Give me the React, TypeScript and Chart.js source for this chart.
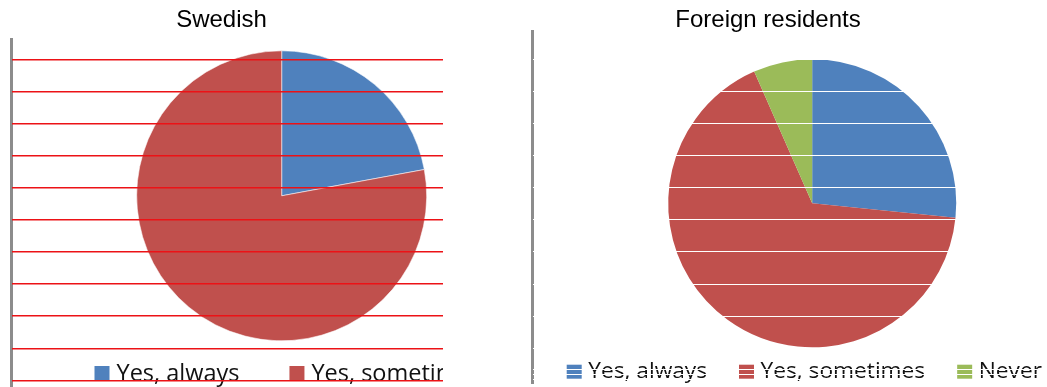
import { useEffect, useRef } from "react";
import { Chart, registerables } from "chart.js";

Chart.register(...registerables);

// ---- data ----
const swedishLabels = ["Yes, always", "Yes, sometimes"];
const swedishShares = [22.1, 77.9];

const foreignLabels = ["Yes, always", "Yes, sometimes", "Never"];
const foreignShares = [26.6, 66.8, 6.6];

const sliceColors = ["#4F81BD", "#C0504D", "#9BBB59"];

// horizontal rule rows (one unit per rule step, counted from the lowest rule)
const swedishRuleRows = [0, 1, 2, 3, 4, 5, 6, 7, 8, 9, 10];
const foreignRuleRows = [0.04, 0.19, 0.34, 1, 2, 3, 4, 5, 6, 7, 8, 9, 10];

// ---- layout ----
const HEIGHT = 387;
const TITLE_SIZE = 24;
const TITLE_BASELINE = 26.5;

type LegendLayout = {
  x: number;
  boxTop: number;
  boxW: number;
  boxH: number;
  baseline: number;
  size: number;
  textGap: number;
  itemGap: number;
};

type RuleLayout = {
  rows: number[];
  min: number;
  max: number;
  top: number;
  bottom: number;
  axisX: number;
  color: string;
  width: number;
};

type PanelSpec = {
  title: string;
  labels: string[];
  values: number[];
  left: number;
  width: number;
  cx: number;
  cy: number;
  radius: number;
  sliceBorder: number;
  sliceBorderColor: string;
  legend: LegendLayout;
  rules: RuleLayout;
};

const panels: PanelSpec[] = [
  {
    title: "Swedish",
    labels: swedishLabels,
    values: swedishShares,
    left: 0,
    width: 443,
    cx: 281.7,
    cy: 195.8,
    radius: 145,
    sliceBorder: 1,
    sliceBorderColor: "rgba(255,255,255,0.55)",
    legend: { x: 94.5, boxTop: 366, boxW: 15, boxH: 15, baseline: 380.7, size: 23.5, textGap: 7, itemGap: 50 },
    rules: { rows: swedishRuleRows, min: -0.206, max: 10.636, top: 39, bottom: 387, axisX: 11.5, color: "rgb(236,18,22)", width: 1.5 },
  },
  {
    title: "Foreign residents",
    labels: foreignLabels,
    values: foreignShares,
    left: 489,
    width: 558,
    cx: 323.2,
    cy: 203.3,
    radius: 144,
    sliceBorder: 0,
    sliceBorderColor: "rgba(255,255,255,0)",
    legend: { x: 77.7, boxTop: 364.7, boxW: 15, boxH: 14, baseline: 378.3, size: 22.7, textGap: 6.6, itemGap: 32 },
    rules: { rows: foreignRuleRows, min: -0.097, max: 10.885, top: 31, bottom: 383.5, axisX: 43.5, color: "#ffffff", width: 1 },
  },
];

// panel heading, centred on the whole canvas width
const panelTitle = {
  id: "panelTitle",
  afterDraw(chart: any, _args: any, opts: { text: string }) {
    const { ctx, width } = chart;
    ctx.save();
    ctx.font = `${TITLE_SIZE}px "Liberation Sans", Arial, sans-serif`;
    ctx.fillStyle = "#000";
    ctx.textAlign = "center";
    ctx.textBaseline = "alphabetic";
    ctx.fillText(opts.text, width / 2, TITLE_BASELINE);
    ctx.restore();
  },
};

// legend drawn as one row, left-aligned, running past the canvas edge if needed
const rowLegend = {
  id: "rowLegend",
  afterDraw(chart: any, _args: any, opts: LegendLayout) {
    const { ctx } = chart;
    const labels = chart.data.labels as string[];
    const colors = chart.data.datasets[0].backgroundColor as string[];
    ctx.save();
    ctx.font = `${opts.size}px "Open Sans", "Noto Sans", sans-serif`;
    ctx.textBaseline = "alphabetic";
    ctx.textAlign = "left";
    let x = opts.x;
    labels.forEach((label, i) => {
      ctx.fillStyle = colors[i];
      ctx.fillRect(x, opts.boxTop, opts.boxW, opts.boxH);
      const tx = x + opts.boxW + opts.textGap;
      ctx.fillStyle = "#111";
      ctx.fillText(label, tx, opts.baseline);
      x = tx + ctx.measureText(label).width + opts.itemGap;
    });
    ctx.restore();
  },
};

function Panel({ spec }: { spec: PanelSpec }) {
  const pieRef = useRef<HTMLCanvasElement>(null);
  const ruleRef = useRef<HTMLCanvasElement>(null);

  useEffect(() => {
    const half = spec.radius + 1;
    const pie = new Chart(pieRef.current!, {
      type: "pie",
      data: {
        labels: spec.labels,
        datasets: [
          {
            data: spec.values,
            backgroundColor: sliceColors.slice(0, spec.values.length),
            borderColor: spec.sliceBorderColor,
            borderWidth: spec.sliceBorder,
            hoverOffset: 0,
            hoverBorderWidth: spec.sliceBorder,
          },
        ],
      },
      options: {
        animation: false,
        responsive: false,
        events: [],
        radius: spec.radius,
        layout: {
          padding: {
            left: spec.cx - half,
            right: spec.width - (spec.cx + half),
            top: spec.cy - half,
            bottom: HEIGHT - (spec.cy + half),
          },
        },
        plugins: {
          legend: { display: false },
          tooltip: { enabled: false },
          title: { display: false },
          panelTitle: { text: spec.title },
          rowLegend: spec.legend,
        },
      } as any,
      plugins: [panelTitle, rowLegend],
    });

    // rules: a vertical axis line plus horizontal grid rules drawn over the pie
    const r = spec.rules;
    const rules = new Chart(ruleRef.current!, {
      type: "line",
      data: { labels: [], datasets: [] },
      options: {
        animation: false,
        responsive: false,
        events: [],
        layout: {
          padding: { left: r.axisX, right: 0, top: r.top, bottom: HEIGHT - r.bottom },
        },
        plugins: { legend: { display: false }, tooltip: { enabled: false }, title: { display: false } },
        scales: {
          x: { display: false },
          axis: {
            type: "linear",
            axis: "y",
            position: "left",
            min: r.min,
            max: r.max,
            ticks: { display: false },
            grid: { display: true, color: "rgba(0,0,0,0)", drawTicks: false },
            border: { display: true, color: "#8c8c8c", width: 3 },
          },
          y: {
            type: "linear",
            position: "left",
            bounds: "data",
            min: r.min,
            max: r.max,
            afterBuildTicks: (scale: any) => {
              scale.ticks = r.rows.map((v) => ({ value: v }));
            },
            ticks: { display: false },
            grid: { color: r.color, lineWidth: r.width, drawTicks: false, z: 1 },
            border: { display: false },
          },
        },
      } as any,
    });

    return () => {
      pie.destroy();
      rules.destroy();
    };
  }, [spec]);

  const box: React.CSSProperties = { position: "absolute", left: 0, top: 0, width: spec.width, height: HEIGHT };
  return (
    <div style={{ position: "absolute", left: spec.left, top: 0, width: spec.width, height: HEIGHT, overflow: "hidden" }}>
      <canvas ref={pieRef} width={spec.width} height={HEIGHT} style={box} />
      <canvas ref={ruleRef} width={spec.width} height={HEIGHT} style={box} />
    </div>
  );
}

export default function App() {
  return (
    <div style={{ position: "absolute", left: 0, top: 0, width: 1047, height: HEIGHT, background: "#fff", overflow: "hidden" }}>
      {panels.map((p) => (
        <Panel key={p.title} spec={p} />
      ))}
    </div>
  );
}
